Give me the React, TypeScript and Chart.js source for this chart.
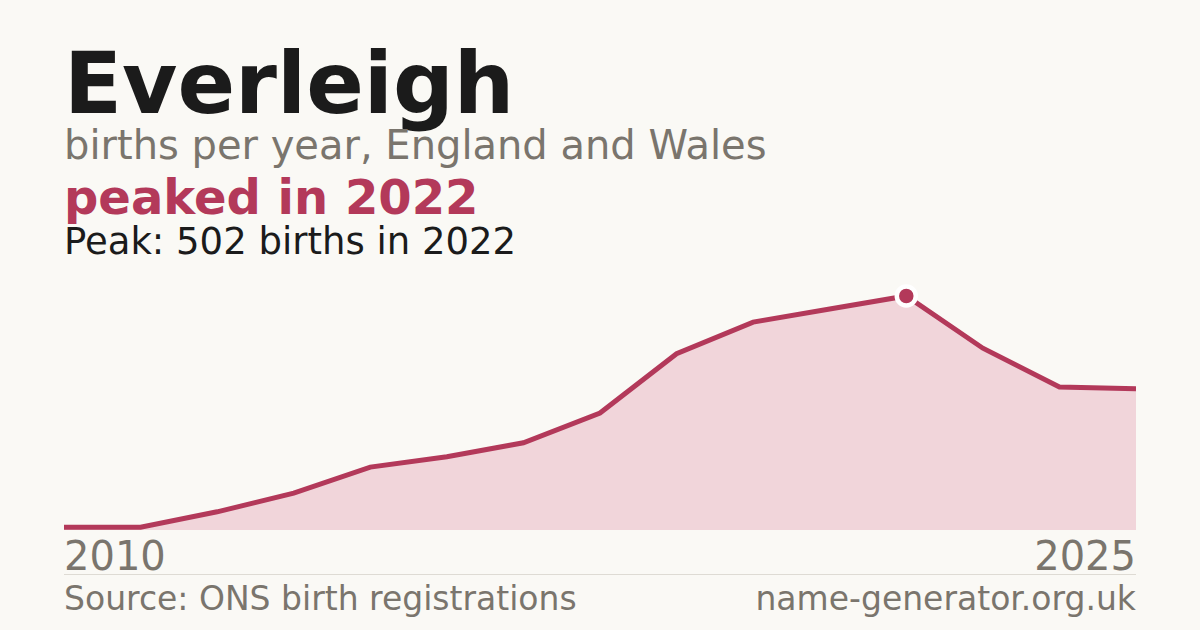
import { useEffect, useRef } from "react";
import { Chart, registerables } from "chart.js";

Chart.register(...registerables);

// births per year, one entry per registration year
const years = [
  "2011", "2012", "2013", "2014", "2015", "2016", "2017", "2018",
  "2019", "2020", "2021", "2022", "2023", "2024", "2025",
];
const births = [6, 6, 39, 79, 135, 157, 187, 251, 378, 446, 474, 502, 390, 307, 303];
const peakYear = "2022";
const edgeLabels = ["2010", "2025"];

const ACCENT = "#b3395a";
const GREY = "#7a756d";
const FONT = "'DejaVu Sans', sans-serif";

export default function App() {
  const chartRef = useRef<HTMLCanvasElement>(null);
  const chartInstance = useRef<Chart | null>(null);

  useEffect(() => {
    if (!chartRef.current) return;
    if (chartInstance.current) chartInstance.current.destroy();
    const ctx = chartRef.current.getContext("2d");
    if (!ctx) return;

    const peakIdx = years.indexOf(peakYear);

    chartInstance.current = new Chart(ctx, {
      type: "line",
      data: {
        labels: years,
        datasets: [
          {
            data: births,
            borderColor: ACCENT,
            borderWidth: 5,
            backgroundColor: "#f1d5da",
            fill: "origin",
            tension: 0,
            pointRadius: births.map((_, i) => (i === peakIdx ? 9.5 : 0)),
            pointBackgroundColor: ACCENT,
            pointBorderColor: "#ffffff",
            pointBorderWidth: 4.5,
            pointHoverRadius: 0,
          },
        ],
      },
      options: {
        animation: false,
        responsive: true,
        maintainAspectRatio: false,
        clip: false,
        layout: { padding: { top: 14, bottom: 0, left: 0, right: 0 } },
        plugins: {
          legend: { display: false },
          tooltip: { enabled: false },
        },
        scales: {
          x: { display: false, offset: false },
          y: { display: false, min: 0, max: 502 },
        },
      },
    });

    return () => {
      if (chartInstance.current) {
        chartInstance.current.destroy();
        chartInstance.current = null;
      }
    };
  }, []);

  const text = (
    content: string,
    top: number,
    size: number,
    color: string,
    bold = false,
    right = false
  ) => (
    <div
      style={{
        position: "absolute",
        top,
        left: right ? undefined : 64,
        right: right ? 1200 - 1136 : undefined,
        fontFamily: FONT,
        fontSize: size,
        fontWeight: bold ? 700 : 400,
        lineHeight: 1,
        color,
        whiteSpace: "nowrap",
      }}
    >
      {content}
    </div>
  );

  return (
    <div
      style={{
        position: "fixed",
        left: 0,
        top: 0,
        width: 1200,
        height: 630,
        background: "#faf9f5",
        overflow: "hidden",
      }}
    >
      {text("Everleigh", 41, 85, "#1b1b1b", true)}
      {text("births per year, England and Wales", 125, 40, GREY)}
      {text(`peaked in ${peakYear}`, 173, 48, ACCENT, true)}
      {text(`Peak: ${Math.max(...births)} births in ${peakYear}`, 223, 37, "#1b1b1b")}

      <div style={{ position: "absolute", left: 64, top: 282, width: 1072, height: 248 }}>
        <canvas ref={chartRef}></canvas>
      </div>

      {text(edgeLabels[0], 536, 40, GREY)}
      {text(edgeLabels[1], 536, 40, GREY, false, true)}
      <div
        style={{
          position: "absolute",
          left: 64,
          top: 574,
          width: 1072,
          height: 1,
          background: "#dedbd4",
        }}
      />
      {text("Source: ONS birth registrations", 582, 33, GREY)}
      {text("name-generator.org.uk", 582, 33, GREY, false, true)}
    </div>
  );
}
